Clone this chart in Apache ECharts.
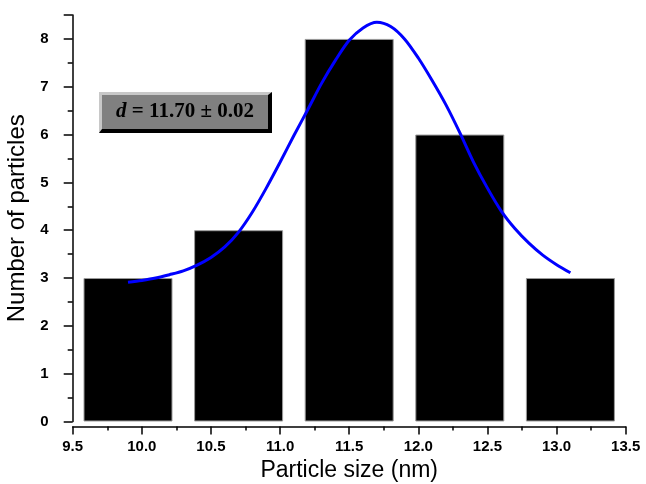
<!DOCTYPE html>
<html><head><meta charset="utf-8">
<script src="https://cdn.jsdelivr.net/npm/echarts@6/dist/echarts.min.js"></script>
<style>html,body{margin:0;padding:0;background:#fff}#c{width:646px;height:484px}</style>
</head><body><div id="c"></div>
<script>
// Histogram bins (bin centers, nm) and counts
const binCenters = [9.9, 10.7, 11.5, 12.3, 13.1];
const counts = [3, 4, 8, 6, 3];
// Fitted curve (every 0.1 nm)
const fitX = [9.9, 10.0, 10.1, 10.2, 10.3, 10.4, 10.5, 10.6, 10.7, 10.8, 10.9, 11.0, 11.1, 11.2, 11.3, 11.4, 11.5, 11.6, 11.7, 11.8, 11.9, 12.0, 12.1, 12.2, 12.3, 12.4, 12.5, 12.6, 12.7, 12.8, 12.9, 13.0, 13.1];
const fitY = [2.91, 2.95, 3.00, 3.07, 3.15, 3.27, 3.43, 3.65, 3.96, 4.38, 4.88, 5.42, 5.98, 6.52, 7.07, 7.55, 7.97, 8.23, 8.35, 8.26, 8.00, 7.60, 7.13, 6.62, 6.04, 5.42, 4.88, 4.40, 4.03, 3.73, 3.48, 3.28, 3.11];
const xTicks = [9.5, 10.0, 10.5, 11.0, 11.5, 12.0, 12.5, 13.0, 13.5];
const yTicks = [0, 1, 2, 3, 4, 5, 6, 7, 8];
const annotation = '11.70 \u00b1 0.02';

const chart = echarts.init(document.getElementById('c'), null, {renderer: 'canvas'});
const axisFont = {fontFamily: 'Liberation Sans', fontWeight: 'bold', fontSize: 15, color: '#000'};
chart.setOption({
  animation: false,
  grid: {left: 72.7, right: 20.3, top: 15, bottom: 62.5, containLabel: false, outerBoundsMode: 'none'},
  xAxis: {
    type: 'value', min: 9.5, max: 13.5, interval: 0.5, offset: 5,
    axisLine: {onZero: false, lineStyle: {color: '#000', width: 1.5}},
    axisTick: {inside: false, length: 8, lineStyle: {color: '#000', width: 1.5}},
    minorTick: {show: true, splitNumber: 2, length: 4, lineStyle: {color: '#000', width: 1.5}},
    splitLine: {show: false},
    axisLabel: Object.assign({margin: 13, formatter: v => xTicks.indexOf(v) >= 0 ? v.toFixed(1) : ''}, axisFont),
    name: 'Particle size (nm)', nameLocation: 'middle', nameGap: 27,
    nameTextStyle: {fontFamily: 'Liberation Sans', fontSize: 23, color: '#000'}
  },
  yAxis: {
    type: 'value', min: 0, max: 8.5, interval: 1,
    axisLine: {show: true, lineStyle: {color: '#000', width: 1.5}},
    axisTick: {show: true, length: 9, lineStyle: {color: '#000', width: 1.5}},
    minorTick: {show: true, splitNumber: 2, length: 5, lineStyle: {color: '#000', width: 1.5}},
    splitLine: {show: false},
    axisLabel: Object.assign({margin: 24, formatter: v => yTicks.indexOf(v) >= 0 ? String(v) : ''}, axisFont),
    name: 'Number of particles', nameLocation: 'middle', nameGap: 38,
    nameTextStyle: {fontFamily: 'Liberation Sans', fontSize: 24, color: '#000'}
  },
  series: [
    {
      type: 'bar', barWidth: 89,
      data: binCenters.map((c, i) => [c, counts[i]]),
      itemStyle: {color: '#000', borderColor: '#9a9a9a', borderWidth: 1},
      z: 2
    },
    {
      type: 'line', smooth: 0.3, symbol: 'none',
      data: fitX.map((x, i) => [x, fitY[i]]),
      lineStyle: {color: '#0000ff', width: 3},
      z: 3
    }
  ],
  graphic: [
    {type: 'rect', shape: {x: 99, y: 92, width: 173, height: 41}, style: {fill: '#000'}, z: 10},
    {type: 'polygon', shape: {points: [[99, 92], [272, 92], [268, 95], [102, 95], [102, 129], [99, 133]]}, style: {fill: '#c8c8c8'}, z: 11},
    {type: 'rect', shape: {x: 102, y: 95, width: 166, height: 34}, style: {fill: '#808080'}, z: 11},
    {type: 'text', x: 185, y: 112, z: 12,
      style: {
        text: '{i|d}{b| = ' + annotation + '}',
        align: 'center', verticalAlign: 'middle',
        rich: {
          i: {fontFamily: 'Liberation Serif', fontStyle: 'italic', fontWeight: 'bold', fontSize: 21, fill: '#000'},
          b: {fontFamily: 'Liberation Serif', fontWeight: 'bold', fontSize: 21, fill: '#000'}
        }
      }
    }
  ]
});
</script></body></html>
